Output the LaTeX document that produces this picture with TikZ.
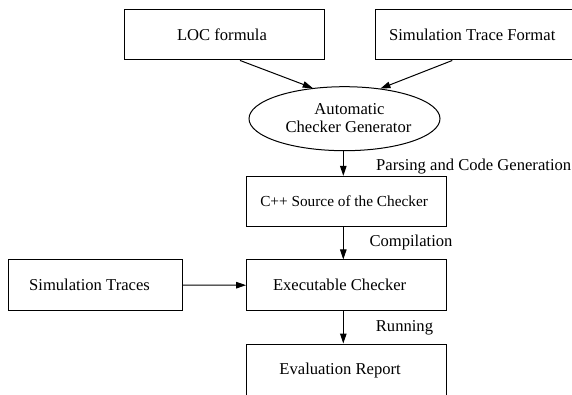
\documentclass[tikz,border=0pt]{standalone}
\usepackage{fontspec}
\setmainfont{Liberation Serif}
\usetikzlibrary{shapes.geometric,arrows.meta}
% shift a centred label sideways inside its box: #1 > 0 moves it left by #1
\newcommand{\nudgeL}[2]{#2\hspace*{\dimexpr2\dimexpr#1\relax\relax}}
\begin{document}
\begin{tikzpicture}[x=1pt,y=-1pt,
  txt/.style={font=\fontsize{16.6}{18.3}\selectfont},
  box/.style={draw,line width=1pt,inner sep=0pt,minimum width=200pt,
    minimum height=50.5pt,txt},
  gen/.style={draw,ellipse,line width=1pt,inner sep=0pt,minimum width=191pt,
    minimum height=64pt,align=center,txt},
  flow/.style={line width=1pt,-{Triangle[length=10pt,width=6.5pt]}},
  tag/.style={anchor=base west,inner sep=0pt,txt}]
\fill[white] (0,0) rectangle (572,394);
\clip (0,0) rectangle (572,394);
\useasboundingbox (0,0) rectangle (572,394);

% inputs
\node[box] (loc) at (224,34.7) {\nudgeL{2pt}{LOC formula}};
\node[box,minimum width=198pt] (fmt) at (474.7,34.7) {\nudgeL{2.5pt}{Simulation Trace Format}};

% generator
\node[gen] (acg) at (344.5,118.7) {\raisebox{2pt}{\nudgeL{-5pt}{Automatic}}\\\raisebox{2pt}{\nudgeL{-4pt}{Checker Generator}}};

% main chain
\node[box,font=\fontsize{15.3}{18}\selectfont] (src) at (346.6,201.6) {\nudgeL{2.5pt}{C++ Source of the Checker}};
\node[box] (exe) at (346.6,285.2) {\nudgeL{7pt}{Executable Checker}};
\node[box,minimum height=53pt] (rep) at (346.6,370.5) {\nudgeL{6.5pt}{Evaluation Report}};
\node[box,minimum width=174.4pt,minimum height=51.4pt] (tr) at (95.5,285) {\nudgeL{6pt}{Simulation Traces}};

% vertical axis of the chain
\coordinate (ax) at (343.3,0);

% connectors
\draw[flow] ([xshift=16pt]loc.south) -- (acg.136);
\draw[flow] ([xshift=-22.4pt]fmt.south) -- (acg.40);
\draw[flow] (acg.south -| ax) -- (src.north -| ax);
\draw[flow] (src.south -| ax) -- (exe.north -| ax);
\draw[flow] (exe.south -| ax) -- (rep.north -| ax);
\draw[flow] (tr.east) -- (exe.west);

% step labels
\node[tag] (l1) at (376,170) {Parsing and Code Generation};
\node[tag] (l2) at (369.3,246.7) {Compilation};
\node[tag] (l3) at (375.7,331) {Running};
\end{tikzpicture}
\end{document}
